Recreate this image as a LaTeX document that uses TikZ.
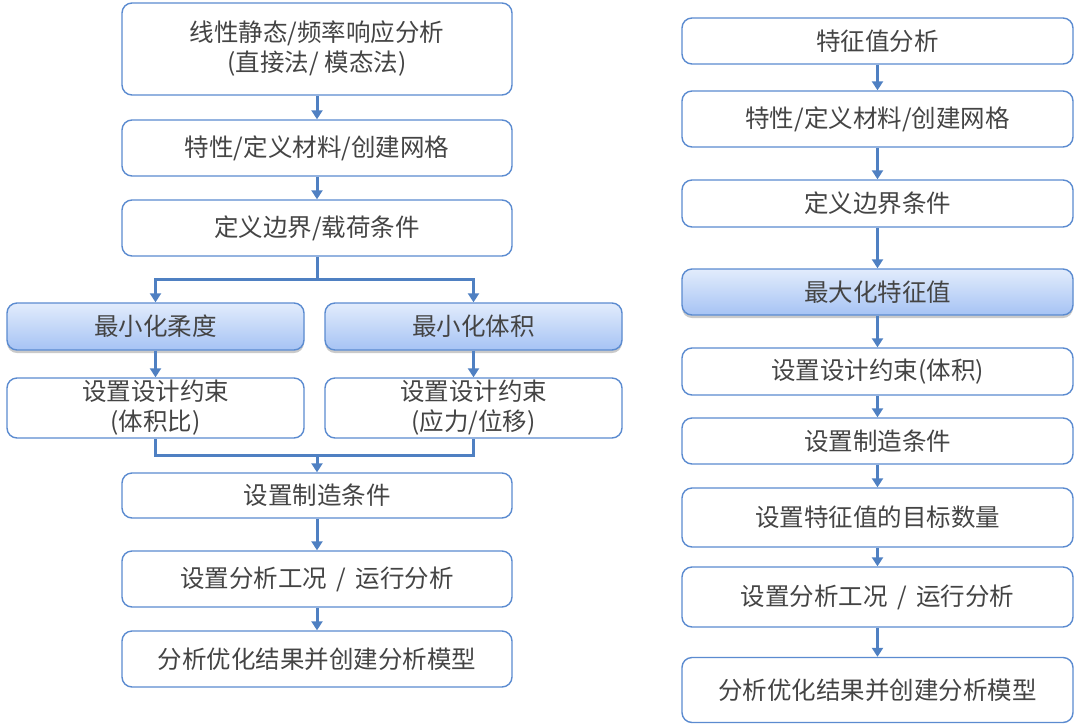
\documentclass[tikz,border=0pt]{standalone}
\usepackage{fontspec}
\newfontfamily\cjk{Noto Sans CJK SC}
\usetikzlibrary{arrows.meta,shadows}
\definecolor{bc}{HTML}{5B8BD0}
\definecolor{lc}{HTML}{4F80C2}
\definecolor{txt}{HTML}{444444}
\definecolor{gtop}{HTML}{E2ECFC}
\definecolor{gbot}{HTML}{A6C3F4}
\tikzset{
  box/.style={draw=bc, line width=1.4pt, rounded corners=10pt, fill=white,
    text=txt, align=center, inner sep=0pt,
    font=\cjk\fontsize{24.5}{30}\selectfont},
  gbox/.style={box, top color=gtop, bottom color=gbot,
    drop shadow={shadow xshift=0pt, shadow yshift=-3pt, opacity=0.35, fill=black!60}},
  conn/.style={draw=lc, line width=3pt},
  arr/.style={conn, -{Triangle[width=11pt,length=9pt]}}
}
\begin{document}
\begin{tikzpicture}[x=1pt,y=-1pt]
\useasboundingbox (0,0) rectangle (1080,724);
% left column
\node[box, minimum width=390pt, minimum height=92pt] (L1) at (317,49) {线性静态/频率响应分析\\(直接法/ 模态法)};
\node[box, minimum width=390pt, minimum height=56pt] (L2) at (317,148) {特性/定义材料/创建网格};
\node[box, minimum width=390pt, minimum height=56pt] (L3) at (317,228) {定义边界/载荷条件};
\node[gbox, minimum width=297pt, minimum height=47pt] (L4) at (155.5,326.5) {最小化柔度};
\node[gbox, minimum width=297pt, minimum height=47pt] (L5) at (473.5,326.5) {最小化体积};
\node[box, minimum width=297pt, minimum height=60pt] (L6) at (155.5,408) {设置设计约束\\(体积比)};
\node[box, minimum width=297pt, minimum height=60pt] (L7) at (473.5,408) {设置设计约束\\(应力/位移)};
\node[box, minimum width=390pt, minimum height=45pt] (L8) at (317,495.5) {设置制造条件};
\node[box, minimum width=390pt, minimum height=56pt] (L9) at (317,579) {设置分析工况 \,/\, 运行分析};
\node[box, minimum width=390pt, minimum height=56pt] (L10) at (317,659) {分析优化结果并创建分析模型};
% right column
\node[box, minimum width=391pt, minimum height=46pt] (R1) at (877.5,41) {特征值分析};
\node[box, minimum width=391pt, minimum height=56pt] (R2) at (877.5,119) {特性/定义材料/创建网格};
\node[box, minimum width=391pt, minimum height=47pt] (R3) at (877.5,203.5) {定义边界条件};
\node[gbox, minimum width=391pt, minimum height=46pt] (R4) at (877.5,292) {最大化特征值};
\node[box, minimum width=391pt, minimum height=47pt] (R5) at (877.5,371.5) {设置设计约束(体积)};
\node[box, minimum width=391pt, minimum height=46pt] (R6) at (877.5,441) {设置制造条件};
\node[box, minimum width=391pt, minimum height=59pt] (R7) at (877.5,517.5) {设置特征值的目标数量};
\node[box, minimum width=391pt, minimum height=60pt] (R8) at (877.5,597) {设置分析工况 \,/\, 运行分析};
\node[box, minimum width=391pt, minimum height=65pt] (R9) at (877.5,690) {分析优化结果并创建分析模型};
% left connectors
\draw[arr] (L1.south) -- (L2.north);
\draw[arr] (L2.south) -- (L3.north);
\coordinate (bs) at (317,279);
\draw[conn] (L3.south) -- (bs);
\draw[arr, line join=miter] (bs) -| (L4.north);
\draw[arr, line join=miter] (bs) -| (L5.north);
\coordinate (ms) at (317,455);
\draw[conn, line join=miter] (L6.south) |- (ms);
\draw[conn, line join=miter] (L7.south) |- (ms);
\draw[arr] (ms) -- (L8.north);
\draw[arr] (L4.south) -- (L6.north);
\draw[arr] (L5.south) -- (L7.north);
\draw[arr] (L8.south) -- (L9.north);
\draw[arr] (L9.south) -- (L10.north);
% right connectors
\draw[arr] (R1.south) -- (R2.north);
\draw[arr] (R2.south) -- (R3.north);
\draw[arr] (R3.south) -- (R4.north);
\draw[arr] (R4.south) -- (R5.north);
\draw[arr] (R5.south) -- (R6.north);
\draw[arr] (R6.south) -- (R7.north);
\draw[arr] (R7.south) -- (R8.north);
\draw[arr] (R8.south) -- (R9.north);
\end{tikzpicture}
\end{document}
